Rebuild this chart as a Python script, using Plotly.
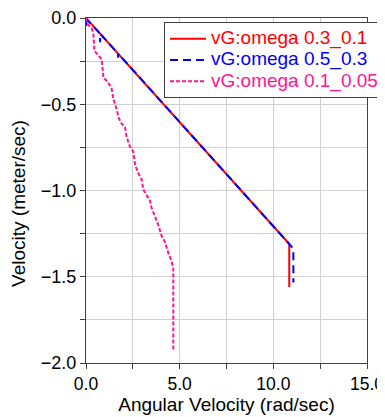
import plotly.graph_objects as go

# Series data (angular velocity, velocity)
red_x = [0.0, 10.85, 10.85]
red_y = [0.0, -1.31, -1.56]

blue_x = [0.0, 0.0, 0.05, 0.75, 0.75, 0.77, 1.71, 1.71, 1.73, 10.85, 11.07, 11.07]
blue_y = [0.0, -0.05, -0.01, -0.09, -0.14, -0.093, -0.206, -0.23, -0.208, -1.31, -1.34, -1.533]

pink_x = [0.0, 0.03, 0.3, 0.39, 0.45, 0.66, 0.84, 0.93, 1.19, 1.37, 1.46, 1.64, 1.73, 1.9,
          2.08, 2.17, 2.35, 2.53, 2.62, 2.79, 2.97, 3.06, 3.33, 3.42, 3.5, 3.68, 3.86, 4.04,
          4.22, 4.39, 4.57, 4.66, 4.66]
pink_y = [0.0, -0.03, -0.06, -0.086, -0.19, -0.22, -0.24, -0.345, -0.374, -0.41, -0.47, -0.53,
          -0.575, -0.613, -0.632, -0.69, -0.747, -0.776, -0.85, -0.9, -0.937, -0.995, -1.044,
          -1.06, -1.1, -1.15, -1.2, -1.264, -1.3, -1.36, -1.41, -1.455, -1.925]

names = ["vG:omega 0.3_0.1", "vG:omega 0.5_0.3", "vG:omega 0.1_0.05"]
colors = ["#FF0000", "#0000FF", "#FF1493"]

x_ticks = [0, 5, 10, 15]
y_ticks = [0.0, -0.5, -1.0, -1.5, -2.0]

x_title = "Angular Velocity (rad/sec)"
y_title = "Velocity (meter/sec)"


def legend_name(name, color):
    return f"<span style='color:{color};font-size:19px'>{name}</span>"


fig = go.Figure()
fig.add_trace(go.Scatter(x=red_x, y=red_y, mode="lines",
                         name=legend_name(names[0], colors[0]),
                         line=dict(color=colors[0], width=2)))
fig.add_trace(go.Scatter(x=blue_x, y=blue_y, mode="lines",
                         name=legend_name(names[1], colors[1]),
                         line=dict(color=colors[1], width=2, dash="8px,5px")))
fig.add_trace(go.Scatter(x=pink_x, y=pink_y, mode="lines",
                         name=legend_name(names[2], colors[2]),
                         line=dict(color=colors[2], width=2, dash="4px,2px")))

axis_common = dict(
    showline=True, linecolor="#404040", linewidth=1, mirror=True,
    ticks="outside", ticklen=5, tickcolor="#404040",
    showgrid=True, gridcolor="#d0d0d0", gridwidth=1,
    zeroline=False, tickformat=".1f", ticklabeloverflow="allow",
)

fig.update_xaxes(range=[0, 15], tickvals=x_ticks,
                 tickfont=dict(family="Liberation Sans, Arial", size=17.5, color="#000"),
                 minor=dict(dtick=2.5, showgrid=True, gridcolor="#d0d0d0",
                            ticks="outside", ticklen=5, tickcolor="#404040"),
                 title=dict(text=x_title, standoff=4,
                            font=dict(family="Liberation Sans, Arial", size=19, color="#000")),
                 **axis_common)
fig.update_yaxes(range=[-2, 0], tickvals=y_ticks,
                 tickfont=dict(family="Liberation Sans, Arial", size=18, color="#000"),
                 minor=dict(dtick=0.25, showgrid=True, gridcolor="#d0d0d0",
                            ticks="outside", ticklen=5, tickcolor="#404040"),
                 **axis_common)

fig.add_annotation(text=y_title, textangle=-90, xref="paper", yref="paper",
                   x=-0.2385, y=0.464, xanchor="center", yanchor="middle",
                   showarrow=False,
                   font=dict(family="Liberation Sans, Arial", size=19, color="#000"))

fig.update_layout(
    width=377, height=409,
    margin=dict(l=78, r=18, t=10, b=54, autoexpand=False),
    paper_bgcolor="white", plot_bgcolor="white",
    legend=dict(x=1.0605, y=0.988, xanchor="right", yanchor="top",
                bgcolor="white", bordercolor="#404040", borderwidth=1,
                font=dict(family="Liberation Sans, Arial", size=14),
                itemwidth=36, tracegroupgap=0),
    showlegend=True,
)

fig.write_html("out.html")
